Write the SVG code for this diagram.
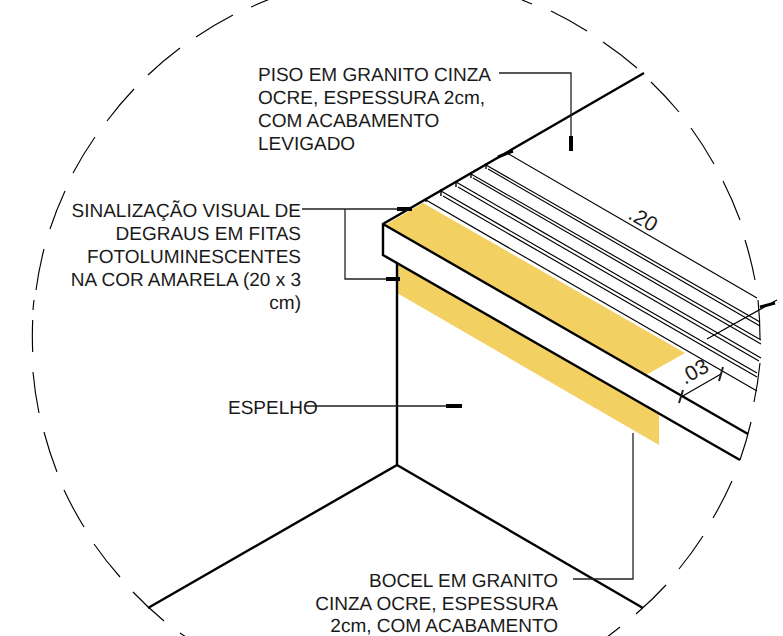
<svg xmlns="http://www.w3.org/2000/svg" width="783" height="636" viewBox="0 0 783 636">
<style>
text{font-family:"Liberation Sans",Arial,sans-serif;font-size:19px;fill:#1a1a1a;text-rendering:geometricPrecision}
.r{text-anchor:end}
.dim{font-size:21px}
.thick{fill:none;stroke:#000;stroke-width:2.4}
.thin{fill:none;stroke:#000;stroke-width:1.15}
.lead{fill:none;stroke:#222;stroke-width:1.3}
.tick{fill:none;stroke:#000;stroke-width:4}
.yellow{fill:#f3d062}
</style>
<rect width="783" height="636" fill="#fff"/>
<g id="detail-circle"><path class="thin" d="M32.7,320A363.5,363.5 0 0 0 32.7,352M33,372A363.5,363.5 0 0 0 39,413M44,432A363.5,363.5 0 0 0 57,472M64,490A363.5,363.5 0 0 0 84,527M94,544A363.5,363.5 0 0 0 120,577M133,592A363.5,363.5 0 0 0 164,621M180,633A363.5,363.5 0 0 0 186,637M33,310A363.5,363.5 0 0 1 34,300M36,290A363.5,363.5 0 0 1 44,249M50,229A363.5,363.5 0 0 1 65,191M73,173A363.5,363.5 0 0 1 95,137M107,121A363.5,363.5 0 0 1 134,89M148,75A363.5,363.5 0 0 1 180,48M196,37A363.5,363.5 0 0 1 233,15M251,7A363.5,363.5 0 0 1 270,-1M522,0A363.5,363.5 0 0 1 532,4M551,11A363.5,363.5 0 0 1 587,31M603,42A363.5,363.5 0 0 1 637,68M651,82A363.5,363.5 0 0 1 679,112M691,128A363.5,363.5 0 0 1 714,164M723,181A363.5,363.5 0 0 1 740,220M745,240A363.5,363.5 0 0 1 755,280M758,300A363.5,363.5 0 0 1 760,339M760,363A363.5,363.5 0 0 1 754,402M751,422A363.5,363.5 0 0 1 740,460M732,481A363.5,363.5 0 0 1 713,518M703,536A363.5,363.5 0 0 1 679,569M666,585A363.5,363.5 0 0 1 636,614M620,627A363.5,363.5 0 0 1 607,637"/></g>
<g id="fitas">
<polygon class="yellow" points="385,225 423,203 685,353 646,375"/>
<polygon class="yellow" points="397,263 659,414 659,445 397,293"/>
</g>
<g id="piso">
<path class="thin" d="M507,153L757,298M486,165L760,322M488,169L760,326M471,174L761,340M473,178L761,344M456,182L761,358M458,187L759,361M441,191L757,373M443,196L757,377M426,200L757,391"/>
<path class="thin" style="stroke-width:1.4" d="M426,198V202M441,189V196M456,181V187M471,172V178M486,163V169"/>
</g>
<g id="degrau">
<path class="thick" d="M644,73L383,224V255L740,460M383,224L748,434"/>
<path class="thick" d="M397,263V465L148,608M397,465L643,608"/>
<path class="thin" d="M707,339L777,300M681,397L721,374"/>
</g>
<g id="connectors">
<path class="lead" d="M499,73H571V136M302,209H400M345,209V279H388M305,406H448M573,579H633V433"/>
<path class="tick" d="M571,136V151M397,209H412M386,279H400M446,406H462"/>
<path class="tick" style="stroke-width:3" d="M498,157L513,151M760,307L775,303"/>
<path class="lead" style="stroke-width:2" d="M679,403L683,390M719,381L723,367"/>
</g>
<g id="label-piso"><text x="258" y="81">PISO EM GRANITO CINZA</text><text x="258" y="104">OCRE, ESPESSURA 2cm,</text><text x="258" y="127">COM ACABAMENTO</text><text x="258" y="150">LEVIGADO</text></g>
<g id="label-sinalizacao"><text class="r" x="301" y="217">SINALIZAÇÃO VISUAL DE</text><text class="r" x="301" y="240">DEGRAUS EM FITAS</text><text class="r" x="301" y="263">FOTOLUMINESCENTES</text><text class="r" x="301" y="286">NA COR AMARELA (20 x 3</text><text class="r" x="301" y="309">cm)</text></g>
<g id="label-espelho"><text x="228" y="414">ESPELHO</text></g>
<g id="label-bocel"><text class="r" x="558" y="586.5">BOCEL EM GRANITO</text><text class="r" x="558" y="609.5">CINZA OCRE, ESPESSURA</text><text class="r" x="558" y="631.8">2cm, COM ACABAMENTO</text></g>
<g id="cotas"><text class="dim" x="627" y="218" transform="rotate(30 627 218)">.20</text><text class="dim" x="685" y="385" transform="rotate(-30 685 385)">.03</text></g>
</svg>
